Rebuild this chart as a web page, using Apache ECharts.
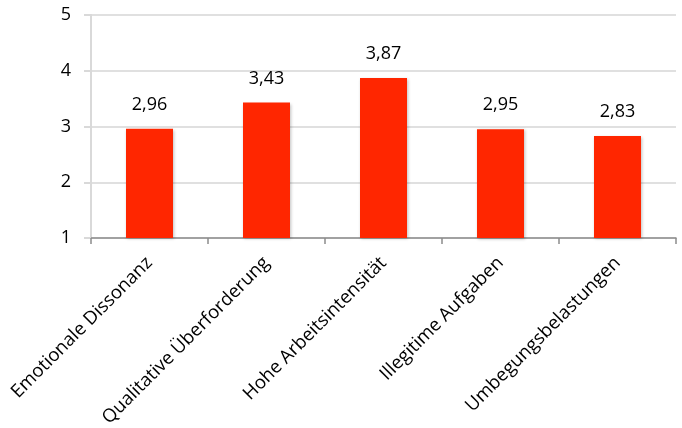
<!DOCTYPE html>
<html><head><meta charset="utf-8">
<script src="https://cdn.jsdelivr.net/npm/echarts@6/dist/echarts.min.js"></script>
<style>html,body{margin:0;padding:0;background:#fff}#c{width:682px;height:428px}</style>
</head><body><div id="c"></div>
<script>
const categories = ['Emotionale Dissonanz','Qualitative Überforderung','Hohe Arbeitsintensität','Illegitime Aufgaben','Umbegungsbelastungen'];
const values = [2.96, 3.43, 3.87, 2.95, 2.83];
const yTicks = [1, 2, 3, 4, 5];
const FONT = '"Open Sans", sans-serif';
const chart = echarts.init(document.getElementById('c'), null, {renderer:'canvas'});
chart.setOption({
  animation:false,
  grid:{left:91, right:6, top:15, bottom:190, containLabel:false, outerBoundsMode:'none'},
  xAxis:{type:'category', data:categories,
    axisLine:{lineStyle:{color:'#8c8c8c', width:1.5}},
    axisTick:{show:true, alignWithLabel:false, length:6, lineStyle:{color:'#8c8c8c', width:1.5}},
    axisLabel:{rotate:45, margin:22, fontSize:18.5, color:'#000', fontFamily:FONT, interval:0}},
  yAxis:{type:'value', min:yTicks[0], max:yTicks[yTicks.length-1], interval:1,
    axisLine:{show:true, lineStyle:{color:'#d9d9d9', width:2}},
    axisTick:{show:true, length:7, lineStyle:{color:'#d9d9d9', width:2}},
    splitLine:{lineStyle:{color:'#e0e0e0', width:2}},
    axisLabel:{margin:20, fontSize:18, color:'#000', fontFamily:FONT}},
  series:[{type:'bar', data:values, barWidth:47,
    itemStyle:{color:'#FF2600', shadowColor:'rgba(0,0,0,0.25)', shadowBlur:3, shadowOffsetX:1, shadowOffsetY:1},
    label:{show:true, position:'top', distance:15, fontSize:18, color:'#000', fontFamily:FONT,
      formatter:p=>p.value.toFixed(2).replace('.',',')}}]
});
</script></body></html>
